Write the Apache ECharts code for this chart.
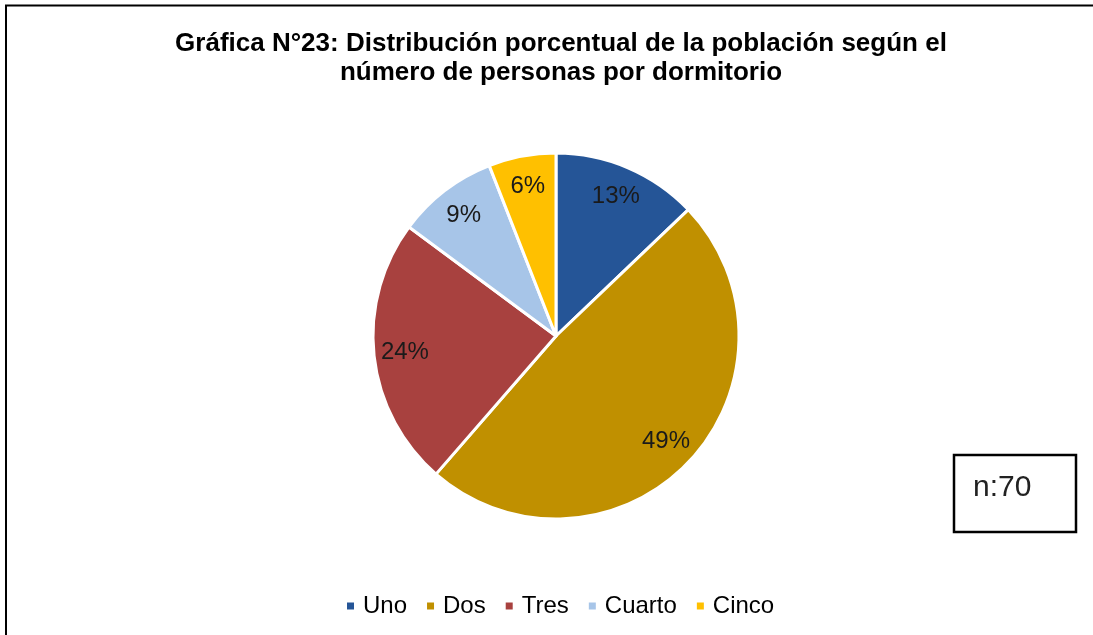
<!DOCTYPE html>
<html>
<head>
<meta charset="utf-8">
<script src="https://cdn.jsdelivr.net/npm/echarts@6/dist/echarts.min.js"></script>
<style>
html,body{margin:0;padding:0;background:#fff;}
#chart{width:1093px;height:635px;}
</style>
</head>
<body>
<div id="chart"></div>
<script>
const categories = ['Uno', 'Dos', 'Tres', 'Cuarto', 'Cinco'];
const percentValues = [13, 49, 24, 9, 6];
const sliceColors = ['#255597', '#C09000', '#A8413F', '#A7C5E8', '#FFC000'];
const sampleNote = 'n:70';
const titleText = 'Gráfica N°23: Distribución porcentual de la población según el\nnúmero de personas por dormitorio';

const pieData = categories.map((name, i) => ({
  name: name,
  value: percentValues[i],
  itemStyle: { color: sliceColors[i] }
}));

const chart = echarts.init(document.getElementById('chart'), null, { renderer: 'canvas' });
const font = '"Liberation Sans", Arial, sans-serif';
const center = [556, 336];

chart.setOption({
  backgroundColor: '#fff',
  animation: false,
  title: {
    text: titleText,
    left: 556,
    textAlign: 'center',
    top: 24,
    textStyle: {
      fontFamily: font,
      fontWeight: 'bold',
      fontSize: 26,
      lineHeight: 29,
      color: '#000'
    }
  },
  legend: {
    data: categories,
    left: 340,
    top: 589,
    icon: 'rect',
    itemWidth: 9,
    itemHeight: 9,
    itemGap: 18,
    textStyle: { fontFamily: font, fontSize: 24, color: '#000', padding: [0, 0, 0, 3] }
  },
  series: [
    {
      type: 'pie',
      center: center,
      radius: [0, 183],
      startAngle: 90,
      clockwise: true,
      data: pieData,
      label: { show: false },
      labelLine: { show: false },
      itemStyle: { borderColor: '#fff', borderWidth: 3 },
      emphasis: { disabled: true }
    },
    {
      type: 'pie',
      center: center,
      radius: [115, 183],
      startAngle: 90,
      clockwise: true,
      silent: true,
      legendHoverLink: false,
      data: categories.map((name, i) => ({ name: name, value: percentValues[i] })),
      itemStyle: { color: 'rgba(0,0,0,0)', borderWidth: 0 },
      label: {
        show: true,
        position: 'inside',
        formatter: p => p.value + '%',
        fontFamily: font,
        fontSize: 24,
        color: '#1a1a1a'
      },
      labelLine: { show: false },
      emphasis: { disabled: true }
    }
  ],
  graphic: [
    { type: 'line', shape: { x1: 5, y1: 5.5, x2: 1093, y2: 5.5 }, style: { stroke: '#000', lineWidth: 2 }, silent: true },
    { type: 'line', shape: { x1: 6, y1: 5, x2: 6, y2: 635 }, style: { stroke: '#000', lineWidth: 2 }, silent: true },
    { type: 'rect', shape: { x: 954, y: 455, width: 122, height: 77 }, style: { fill: '#fff', stroke: '#000', lineWidth: 2.5 }, silent: true },
    { type: 'text', x: 973, y: 488, style: { text: sampleNote, font: '30px "Liberation Sans", Arial, sans-serif', fill: '#222', textVerticalAlign: 'middle', verticalAlign: 'middle' }, silent: true }
  ]
});
</script>
</body>
</html>
